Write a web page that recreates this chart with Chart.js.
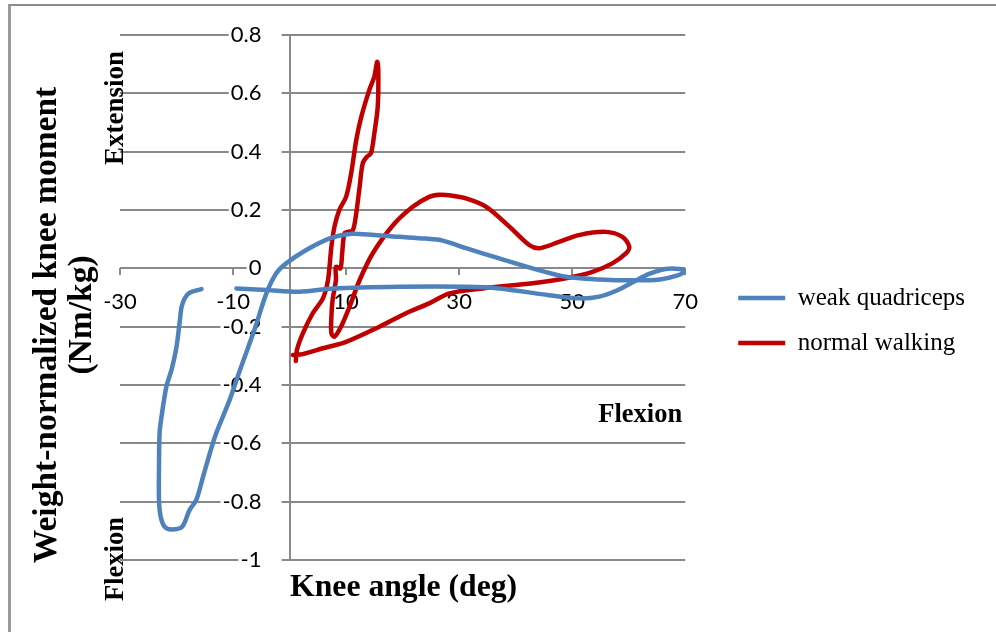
<!DOCTYPE html>
<html>
<head>
<meta charset="utf-8">
<script src="https://cdn.jsdelivr.net/npm/chart.js@4.4.0/dist/chart.umd.min.js"></script>
<style>
  html, body { margin: 0; padding: 0; background: #fff; }
  #wrap { position: relative; width: 996px; height: 632px; overflow: hidden; }
  #frame { position: absolute; left: 8px; top: 4px; width: 1100px; height: 800px;
           border-left: 3px solid #9a9a9a; border-top: 2px solid #8c8c8c; }
  #c { position: absolute; left: 0; top: 0; }
</style>
</head>
<body>
<div id="wrap">
  <div id="frame"></div>
  <canvas id="c" width="996" height="632"></canvas>
</div>
<script>
// ---- Data ----
const seriesNames = ['weak quadriceps', 'normal walking'];

const weakAngle = [
  -15.6, -17.7, -18.55, -19.1, -19.4, -20.0, -20.9, -21.8, -22.7, -23.0, -23.1, -23.1,
  -22.8, -22.1, -20.9, -19.0, -17.7, -16.5, -15.3, -14.1, -13.0, -10.6, -8.8, -6.2,
  -4.1, -2.35, -0.6, 2.95, 7.1, 10.6, 15.0, 19.4, 24.0, 27.1, 31.2, 37.1, 43.0, 48.9,
  54.8, 60.7, 65.5, 68.5, 69.9, 69.0, 66.5, 63.5, 61.0, 58.0, 54.8, 51.2, 45.9, 37.1,
  31.2, 19.4, 7.65, 1.77, -4.1, -9.4
];
const weakMoment = [
  -0.071, -0.084, -0.103, -0.132, -0.177, -0.269, -0.349, -0.406, -0.515, -0.566, -0.68, -0.794,
  -0.852, -0.886, -0.895, -0.886, -0.829, -0.794, -0.714, -0.634, -0.566, -0.451, -0.35, -0.21,
  -0.086, -0.017, 0.017, 0.063, 0.103, 0.118, 0.114, 0.108, 0.102, 0.095, 0.069, 0.034, 0.0, -0.029,
  -0.038, -0.041, -0.038, -0.025, -0.01, -0.002, -0.002, -0.02, -0.045, -0.075, -0.097, -0.103, -0.092, -0.069,
  -0.063, -0.063, -0.069, -0.08, -0.074, -0.069
];

const normalAngle = [
  1.1, 1.3, 2.35, 4.1, 5.9, 6.8, 7.4, 7.95, 8.8, 10.0, 10.9, 11.8, 12.7, 14.1, 15.0, 15.5,
  15.7, 15.6, 15.0, 14.4, 13.7, 12.95, 12.4, 11.8, 11.2, 10.3, 9.7, 9.3, 9.0, 8.2, 8.2, 7.6,
  7.4, 7.4, 7.95, 9.1, 10.6, 12.4, 14.7, 18.3, 21.8, 24.7, 26.5, 28.5, 31.2, 34.8, 38.9, 42.4,
  44.2, 47.7, 51.2, 55.9, 58.9, 60.1, 59.5, 57.1, 53.6, 48.9, 43.0, 34.2, 28.3, 24.7, 20.6, 15.9,
  10.0, 5.9, 2.35, 0.6
];
const normalMoment = [
  -0.318, -0.28, -0.223, -0.154, -0.103, -0.04, 0.074, 0.143, 0.2, 0.245, 0.326, 0.44, 0.52, 0.611, 0.657, 0.708,
  0.68, 0.554, 0.463, 0.394, 0.383, 0.36, 0.28, 0.189, 0.131, 0.125, 0.12, 0.051, 0.0, 0.005, -0.04, -0.11,
  -0.166, -0.223, -0.234, -0.2, -0.132, -0.04, 0.051, 0.148, 0.211, 0.245, 0.252, 0.25, 0.24, 0.211, 0.143, 0.08,
  0.069, 0.091, 0.114, 0.125, 0.108, 0.074, 0.051, 0.017, -0.012, -0.034, -0.051, -0.069, -0.086, -0.12, -0.154, -0.2,
  -0.252, -0.274, -0.294, -0.297
];

const xMin = -30, xMax = 70, xStep = 20;
const yMin = -1, yMax = 0.8, yStep = 0.2;

const xTitle = 'Knee angle (deg)';
const yTitleLines = ['Weight-normalized knee moment', '(Nm/kg)'];
const extensionLabel = 'Extension';
const flexionLabel = 'Flexion';

// ---- Build ----
function pts(xs, ys) { return xs.map((x, i) => ({x: x, y: ys[i]})); }
function fmt(v) { return String(Math.round(v * 10) / 10); }

const gridColor = '#898989';
const blue = '#4F81BD';
const red = '#C00000';
const yLabelGap = '     '; // spacing between y tick labels and the axis

const annotationsPlugin = {
  id: 'textAnnotations',
  afterDraw(chart) {
    const ctx = chart.ctx;
    const ca = chart.chartArea;
    ctx.save();
    ctx.fillStyle = '#000';
    // x title
    ctx.font = 'bold 31.7px "Liberation Serif"';
    ctx.textAlign = 'center';
    ctx.textBaseline = 'alphabetic';
    ctx.fillText(xTitle, (ca.left + ca.right) / 2 + 1, 596);
    // horizontal Flexion
    ctx.font = 'bold 26.5px "Liberation Serif"';
    ctx.textAlign = 'right';
    ctx.textBaseline = 'middle';
    ctx.fillText(flexionLabel, ca.right - 3, 415);
    // rotated texts
    const rot = (txt, x, y, font) => {
      ctx.save();
      ctx.translate(x, y);
      ctx.rotate(-Math.PI / 2);
      ctx.font = font;
      ctx.textAlign = 'center';
      ctx.textBaseline = 'middle';
      ctx.fillText(txt, 0, 0);
      ctx.restore();
    };
    rot(yTitleLines[0], 47, 325, 'bold 33.5px "Liberation Serif"');
    rot(yTitleLines[1], 82, 315, 'bold 33.5px "Liberation Serif"');
    rot(extensionLabel, 116, 108, 'bold 27px "Liberation Serif"');
    rot(flexionLabel, 116, 559, 'bold 26.5px "Liberation Serif"');
    ctx.restore();
  }
};

Chart.defaults.font.family = 'Lato';

new Chart(document.getElementById('c'), {
  type: 'scatter',
  data: {
    datasets: [
      { label: seriesNames[0], data: pts(weakAngle, weakMoment), showLine: true,
        borderColor: blue, backgroundColor: blue, borderWidth: 4.5, pointRadius: 0,
        tension: 0.3, borderCapStyle: 'round', borderJoinStyle: 'round' },
      { label: seriesNames[1], data: pts(normalAngle, normalMoment), showLine: true,
        borderColor: red, backgroundColor: red, borderWidth: 4.5, pointRadius: 0,
        tension: 0.3, borderCapStyle: 'round', borderJoinStyle: 'round' }
    ]
  },
  options: {
    responsive: false,
    animation: false,
    devicePixelRatio: 1,
    layout: { padding: { left: 120, top: 35, bottom: 72, right: 21 } },
    scales: {
      x: {
        type: 'linear', position: { y: 0 }, min: xMin, max: xMax,
        ticks: { stepSize: xStep, padding: 13, color: '#000', font: { size: 22 }, maxRotation: 0,
                 callback: (v) => fmt(v) },
        grid: { drawOnChartArea: false, drawTicks: true, tickLength: 7, color: gridColor, lineWidth: 2 },
        border: { display: false }
      },
      y: {
        type: 'linear', position: { x: 0 }, min: yMin, max: yMax,
        ticks: { stepSize: yStep, padding: 20, color: '#000', font: { size: 22 },
                 callback: (v) => fmt(v) + yLabelGap,
                 showLabelBackdrop: true, backdropColor: '#ffffff',
                 backdropPadding: { left: 2, right: -8, top: 0, bottom: 0 } },
        grid: { color: gridColor, lineWidth: 2, tickLength: 7 },
        border: { display: true, color: gridColor, width: 2 }
      },
      y2: {
        type: 'linear', position: 'right', display: true,
        ticks: { display: false }, grid: { display: false }, border: { display: false },
        afterFit(s) { s.width = 33; }
      }
    },
    plugins: {
      tooltip: { enabled: false },
      legend: {
        position: 'right',
        maxWidth: 258,
        title: { display: true, text: '', padding: { top: 36, bottom: 0 }, font: { size: 10, lineHeight: 1 } },
        labels: {
          usePointStyle: true, pointStyle: 'line', pointStyleWidth: 47,
          padding: 20, color: '#000',
          font: { family: 'Liberation Serif', size: 25 }
        }
      }
    }
  },
  plugins: [annotationsPlugin]
});
</script>
</body>
</html>
